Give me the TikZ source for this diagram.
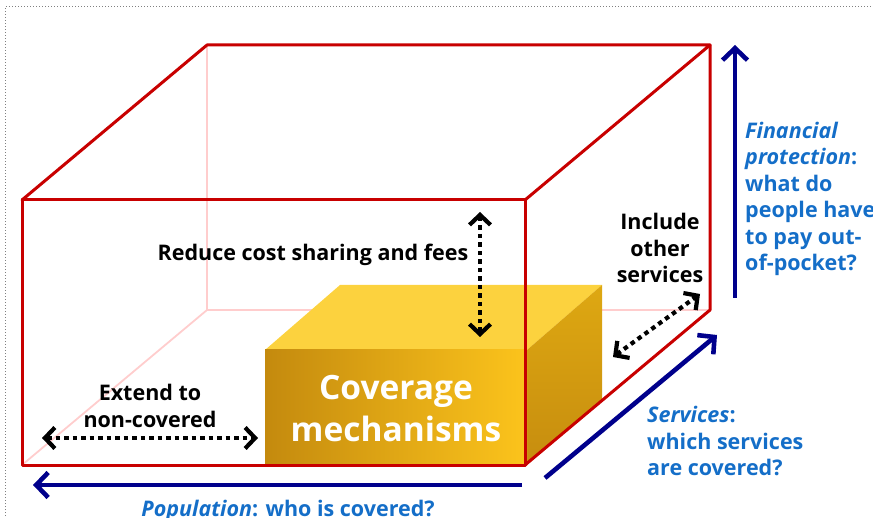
\documentclass[tikz,border=0pt]{standalone}
\usepackage{fontspec}
\setmainfont{Open Sans}
\usetikzlibrary{arrows.meta}

\definecolor{framered}{RGB}{200,0,0}
\definecolor{ghostred}{RGB}{255,205,205}
\definecolor{axisnavy}{RGB}{0,0,140}
\definecolor{labelblue}{RGB}{20,110,200}
\definecolor{golddark}{RGB}{196,138,14}
\definecolor{goldlight}{RGB}{252,196,28}
\definecolor{goldtop}{RGB}{252,210,62}
\definecolor{goldside}{RGB}{222,168,18}

\tikzset{
  edgeline/.style={draw=framered, line width=3pt, line join=round, line cap=round},
  hiddenline/.style={draw=ghostred, line width=1.8pt},
  axisarrow/.style={draw=axisnavy, line width=4.6pt,
    -{Straight Barb[length=12pt,width=25pt]}},
  shiftarrow/.style={draw=black, line width=4.2pt, dash pattern=on 4.5pt off 4pt,
    {Straight Barb[length=10pt,width=21pt]}-{Straight Barb[length=10pt,width=21pt]}},
  blacklabel/.style={font=\bfseries\fontsize{21.5}{26.5}\selectfont, text=black,
    inner sep=0pt, align=center},
  bluelabel/.style={font=\bfseries\fontsize{21.5}{26.5}\selectfont, text=labelblue,
    inner sep=0pt, align=left},
  coverlabel/.style={font=\bfseries\fontsize{33.5}{42}\selectfont, text=white,
    inner sep=0pt, align=center},
}

\begin{document}
\begin{tikzpicture}[x=1pt, y=-1pt]
\useasboundingbox (0,0) rectangle (873,518);

% dotted page frame (right and bottom edges fall outside)
\draw[gray, line width=1pt, dotted] (5,525) -- (5,7) -- (880,7);

% hidden edges of the large box
\draw[hiddenline] (207,45) -- (207,310) -- (710,310);
\draw[hiddenline] (22,465) -- (207,310);

% coverage block: top, side and front faces
\fill[goldtop] (265,350) -- (340,285) -- (602,285) -- (527,350) -- cycle;
\shade[top color=goldside, bottom color=golddark!90!goldside]
  (527,350) -- (602,285) -- (602,400) -- (527,465) -- cycle;
\shade[left color=golddark, right color=goldlight] (265,350) rectangle (527,465);

% visible edges of the large box
\draw[edgeline] (22,200) rectangle (525,465);
\draw[edgeline] (22,200) -- (207,45) -- (710,45) -- (525,200);
\draw[edgeline] (710,45) -- (710,310) -- (525,465);

% block caption
\node[coverlabel] (coverage) at (396,409) {Coverage\\mechanisms};

% end points of the arrows
\coordinate (rtop) at (480,212);
\coordinate (rbot) at (480,337);
\coordinate (eleft) at (42,438);
\coordinate (eright) at (258,438);
\coordinate (iup) at (700,294);
\coordinate (idown) at (613,357);
\coordinate (fin0) at (735,298);
\coordinate (fin1) at (735,45);
\coordinate (svc0) at (545,478);
\coordinate (svc1) at (717,335);
\coordinate (pop0) at (522,485);
\coordinate (pop1) at (33,485);

% directions of extension
\draw[shiftarrow] (rtop) -- (rbot);
\draw[shiftarrow] (eleft) -- (eright);
\draw[shiftarrow] (idown) -- (iup);

% the three axes
\draw[axisarrow] (fin0) -- (fin1);
\draw[axisarrow] (svc0) -- (svc1);
\draw[axisarrow] (pop0) -- (pop1);

% labels
\node[blacklabel] (reduce) at (313,255) {Reduce cost sharing and fees};
\node[blacklabel] (include) at (660,248) {Include\\other\\services};
\node[blacklabel] (extend) at (150,406) {Extend to\\non-covered};

\node[bluelabel, anchor=west] (finance) at (745,199)
  {\textit{Financial}\\\textit{protection}:\\what do\\people have\\to pay out-\\of-pocket?};
\node[bluelabel, anchor=west] (services) at (647,441)
  {\textit{Services}:\\which services\\are covered?};
\node[bluelabel, align=center] (population) at (288,511)
  {\textit{Population}: who is covered?};
\end{tikzpicture}
\end{document}
